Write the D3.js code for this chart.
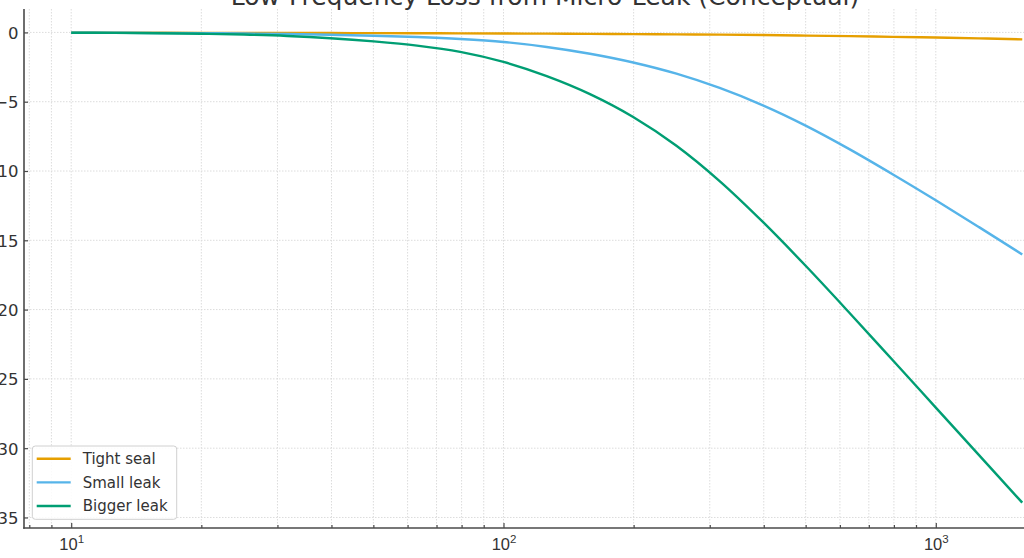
<!DOCTYPE html>
<html>
<head>
<meta charset="utf-8">
<script src="https://cdn.jsdelivr.net/npm/d3@7"></script>
<style>
  html, body { margin: 0; padding: 0; background: #ffffff; overflow: hidden; }
  svg { display: block; font-family: "DejaVu Sans", sans-serif; }
</style>
</head>
<body>
<svg id="chart" width="1024" height="558"></svg>
<script>
const titleText = "Low-Frequency Loss from Micro-Leak (Conceptual)";
const freqs = [10, 12.6, 15.8, 20, 25.1, 31.6, 39.8, 50.1, 63.1, 79.4, 100, 125.9, 158.5, 199.5, 251.2, 316.2, 398.1, 501.2, 631, 794.3, 1000, 1258.9, 1584.9];
const tightSeal = [-0.02, -0.02, -0.025, -0.03, -0.035, -0.04, -0.045, -0.05, -0.06, -0.07, -0.08, -0.09, -0.105, -0.12, -0.14, -0.16, -0.19, -0.23, -0.27, -0.32, -0.37, -0.43, -0.5];
const smallLeak = [-0.02, -0.027, -0.037, -0.054, -0.079, -0.116, -0.169, -0.239, -0.334, -0.474, -0.689, -1.05, -1.54, -2.17, -2.98, -4.01, -5.26, -6.74, -8.42, -10.23, -12.11, -14.05, -16.02];
const biggerLeak = [-0.02, -0.034, -0.057, -0.094, -0.154, -0.254, -0.416, -0.646, -0.951, -1.401, -2.126, -3.151, -4.451, -6.101, -8.176, -10.726, -13.676, -16.876, -20.226, -23.641, -27.071, -30.5, -33.93];
const seriesNames = ["Tight seal", "Small leak", "Bigger leak"];
const seriesColors = ["#E69F00", "#56B4E9", "#009E73"];
const yTicks = [0, -5, -10, -15, -20, -25, -30, -35];
const xMajorTicks = [10, 100, 1000];
const xTickExponents = ["1", "2", "3"];

// ---- layout ----
const svg = d3.select("#chart");
const plotLeft = 24, plotTop = 9, plotBottom = 528, plotRight = 1066;

const xRef = d3.scaleLog().domain([10, 1000]).range([71.2, 935.8]);
const x = d3.scaleLog()
  .domain([xRef.invert(plotLeft), xRef.invert(plotRight)])
  .range([plotLeft, plotRight]);
const y = d3.scaleLinear().domain([1.69, -35.76]).range([plotTop, plotBottom]);

const textColor = "#333333";
const spineColor = "#4a4a4a";
const gridColor = "#dcdcdc";

// minor + major x positions
const xAllTicks = [];
for (let dec = 1; dec <= 1000; dec *= 10) {
  for (let m = 1; m <= 9; m++) {
    const v = dec * m;
    if (v >= x.domain()[0] && v <= x.domain()[1]) xAllTicks.push(v);
  }
}

// ---- grid ----
const grid = svg.append("g");
grid.selectAll("line.vx").data(xAllTicks).enter().append("line")
  .attr("x1", d => x(d)).attr("x2", d => x(d))
  .attr("y1", plotTop).attr("y2", plotBottom)
  .attr("stroke", gridColor).attr("stroke-width", 1)
  .attr("stroke-dasharray", "1.5,1.5");
grid.selectAll("line.hy").data(yTicks).enter().append("line")
  .attr("x1", plotLeft).attr("x2", plotRight)
  .attr("y1", d => y(d)).attr("y2", d => y(d))
  .attr("stroke", gridColor).attr("stroke-width", 1)
  .attr("stroke-dasharray", "1.5,1.5");

// ---- lines ----
const allSeries = [tightSeal, smallLeak, biggerLeak];
const line = d3.line()
  .x(d => x(d[0])).y(d => y(d[1]))
  .curve(d3.curveMonotoneX);
svg.append("defs").append("clipPath").attr("id", "clip")
  .append("rect").attr("x", plotLeft).attr("y", plotTop)
  .attr("width", plotRight - plotLeft).attr("height", plotBottom - plotTop);
const linesG = svg.append("g").attr("clip-path", "url(#clip)");
allSeries.forEach((vals, i) => {
  linesG.append("path")
    .datum(freqs.map((f, j) => [f, vals[j]]))
    .attr("fill", "none")
    .attr("stroke", seriesColors[i])
    .attr("stroke-width", 2.4)
    .attr("stroke-linejoin", "round")
    .attr("stroke-linecap", "butt")
    .attr("d", line);
});

// ---- axes ----
const xAxis = d3.axisBottom(x)
  .tickValues(xAllTicks)
  .tickSize(0)
  .tickFormat("");
const xg = svg.append("g").attr("transform", `translate(0,${plotBottom})`).call(xAxis);
xg.select(".domain").remove();
xg.selectAll(".tick line").remove();
xg.selectAll(".tick").append("line")
  .attr("y1", 0)
  .attr("y2", d => xMajorTicks.includes(d) ? -5 : -3)
  .attr("stroke", spineColor).attr("stroke-width", 1.2);
xg.selectAll(".tick").filter(d => xMajorTicks.includes(d)).each(function(d) {
  const idx = xMajorTicks.indexOf(d);
  const t = d3.select(this).append("text")
    .attr("x", 0).attr("y", 22)
    .attr("fill", textColor)
    .attr("font-size", "16.5px")
    .attr("text-anchor", "middle");
  t.append("tspan").text("10");
  t.append("tspan").attr("font-size", "11.5px").attr("dy", "-7").text(xTickExponents[idx]);
});

const yAxis = d3.axisLeft(y).tickValues(yTicks).tickSize(0)
  .tickFormat(d => d < 0 ? "\u2212" + Math.abs(d) : String(d));
const yg = svg.append("g").attr("transform", `translate(${plotLeft},0)`).call(yAxis);
yg.select(".domain").remove();
yg.selectAll(".tick line").remove();
yg.selectAll(".tick").append("line")
  .attr("x1", 0).attr("x2", 4)
  .attr("stroke", spineColor).attr("stroke-width", 1.2);
yg.selectAll(".tick text")
  .attr("x", -5.5)
  .attr("dy", "0.36em")
  .attr("fill", textColor)
  .attr("font-size", "16.5px")
  .attr("font-family", "DejaVu Sans, sans-serif");

// spines
svg.append("line").attr("x1", plotLeft).attr("x2", plotLeft)
  .attr("y1", plotTop).attr("y2", plotBottom + 0.8)
  .attr("stroke", spineColor).attr("stroke-width", 1.6);
svg.append("line").attr("x1", plotLeft - 0.8).attr("x2", plotRight)
  .attr("y1", plotBottom).attr("y2", plotBottom)
  .attr("stroke", spineColor).attr("stroke-width", 1.6);

// ---- title ----
svg.append("text")
  .attr("x", (plotLeft + plotRight) / 2)
  .attr("y", 4.5)
  .attr("text-anchor", "middle")
  .attr("fill", textColor)
  .attr("font-size", "25px")
  .text(titleText);

// ---- legend ----
const lg = svg.append("g");
lg.append("rect")
  .attr("x", 32.3).attr("y", 446).attr("width", 144.4).attr("height", 73.3)
  .attr("rx", 3).attr("ry", 3)
  .attr("fill", "#ffffff").attr("fill-opacity", 0.85)
  .attr("stroke", "#d0d0d0").attr("stroke-width", 1);
seriesNames.forEach((name, i) => {
  const cy = 458.7 + i * 23.65;
  lg.append("line").attr("x1", 36.7).attr("x2", 70.7)
    .attr("y1", cy).attr("y2", cy)
    .attr("stroke", seriesColors[i]).attr("stroke-width", 2.4);
  lg.append("text").attr("x", 82.7).attr("y", cy).attr("dy", "0.35em")
    .attr("fill", textColor).attr("font-size", "15px").text(name);
});
</script>
</body>
</html>
